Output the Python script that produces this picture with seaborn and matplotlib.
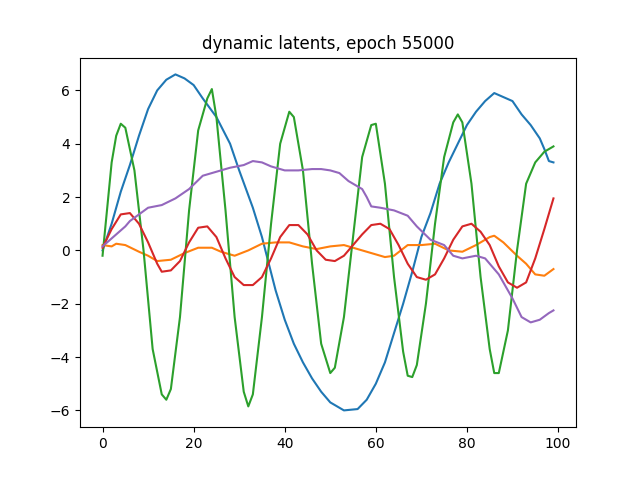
import matplotlib
matplotlib.use("Agg")
import matplotlib.pyplot as plt
import seaborn as sns

blue_x = [0,2,4,6,8,10,12,14,16,18,20,22,25,28,30,33,35,38,40,42,44,46,48,50,53,56,58,60,62,64,66,68,70,72,74,76,78,80,82,84,86,88,90,92,94,96,97,98,99]
blue_y = [0,1.0,2.2,3.2,4.3,5.3,6.0,6.4,6.6,6.45,6.2,5.7,5.0,4.0,3.0,1.6,0.5,-1.5,-2.6,-3.5,-4.2,-4.8,-5.3,-5.7,-6.0,-5.95,-5.6,-5.0,-4.2,-3.1,-2.0,-0.8,0.5,1.4,2.5,3.3,4.0,4.7,5.2,5.6,5.9,5.75,5.6,5.1,4.7,4.2,3.8,3.35,3.3]

orange_x = [0,2,3,5,8,10,12,15,18,21,24,26,29,32,35,38,41,44,47,50,53,56,59,62,64,67,70,73,76,79,82,85,86,88,91,93,95,97,99]
orange_y = [0.2,0.15,0.25,0.2,-0.05,-0.2,-0.4,-0.35,-0.1,0.1,0.1,-0.05,-0.2,0.0,0.25,0.3,0.3,0.15,0.05,0.15,0.2,0.05,-0.1,-0.25,-0.2,0.2,0.2,0.25,0.0,-0.05,0.2,0.5,0.55,0.3,-0.2,-0.5,-0.9,-0.95,-0.7]

green_x = [0,2,3,4,5,7,9,11,13,14,15,17,19,21,23,24,25,27,29,31,32,33,35,37,39,41,42,44,46,48,50,51,53,55,57,59,60,62,64,66,67,68,69,71,73,75,77,78,79,81,83,85,86,87,89,91,93,95,97,99]
green_y = [-0.2,3.3,4.3,4.75,4.6,3.0,0.0,-3.7,-5.4,-5.6,-5.2,-2.5,1.5,4.5,5.7,6.05,5.0,1.5,-2.5,-5.3,-5.85,-5.4,-2.5,1.0,4.0,5.2,5.0,3.0,-0.5,-3.5,-4.6,-4.4,-2.5,0.5,3.5,4.7,4.75,2.5,-1.0,-3.8,-4.7,-4.75,-4.3,-2.0,1.0,3.5,4.8,5.1,4.8,2.5,-1.0,-3.7,-4.6,-4.6,-3.0,0.0,2.5,3.3,3.7,3.9]

red_x = [0,2,4,6,8,10,12,13,15,17,19,21,23,25,27,29,31,33,35,37,39,41,43,45,47,49,51,53,55,57,59,61,63,65,67,69,71,73,75,77,79,81,83,85,87,89,91,93,95,97,99]
red_y = [0.1,0.8,1.35,1.4,1.0,0.3,-0.5,-0.8,-0.75,-0.4,0.3,0.85,0.9,0.5,-0.3,-1.0,-1.3,-1.3,-1.0,-0.3,0.5,0.95,0.95,0.6,0.0,-0.35,-0.4,-0.2,0.2,0.6,0.95,1.0,0.8,0.2,-0.5,-1.0,-1.1,-0.9,-0.3,0.4,0.9,1.0,0.7,0.2,-0.6,-1.2,-1.4,-1.2,-0.3,0.8,1.95]

purple_x = [0,3,5,6,8,10,13,16,19,22,25,28,31,33,35,37,40,43,46,48,50,52,54,57,58,59,61,64,67,69,72,75,77,79,82,84,87,90,92,94,96,98,99]
purple_y = [0.15,0.6,0.9,1.1,1.35,1.6,1.7,1.95,2.3,2.8,2.95,3.1,3.2,3.35,3.3,3.15,3.0,3.0,3.05,3.05,3.0,2.9,2.6,2.3,2.0,1.65,1.6,1.5,1.3,0.9,0.4,0.2,-0.2,-0.3,-0.2,-0.3,-0.9,-1.8,-2.5,-2.7,-2.6,-2.35,-2.25]

fig, ax = plt.subplots(figsize=(6.4, 4.8), dpi=100)
series = [(blue_x, blue_y, "#1f77b4"), (orange_x, orange_y, "#ff7f0e"),
          (green_x, green_y, "#2ca02c"), (red_x, red_y, "#d62728"),
          (purple_x, purple_y, "#9467bd")]
for xs, ys, c in series:
    sns.lineplot(x=xs, y=ys, color=c, ax=ax, linewidth=1.5)
ax.set_title("dynamic latents, epoch 55000")
fig.savefig("out.png", dpi=100)
